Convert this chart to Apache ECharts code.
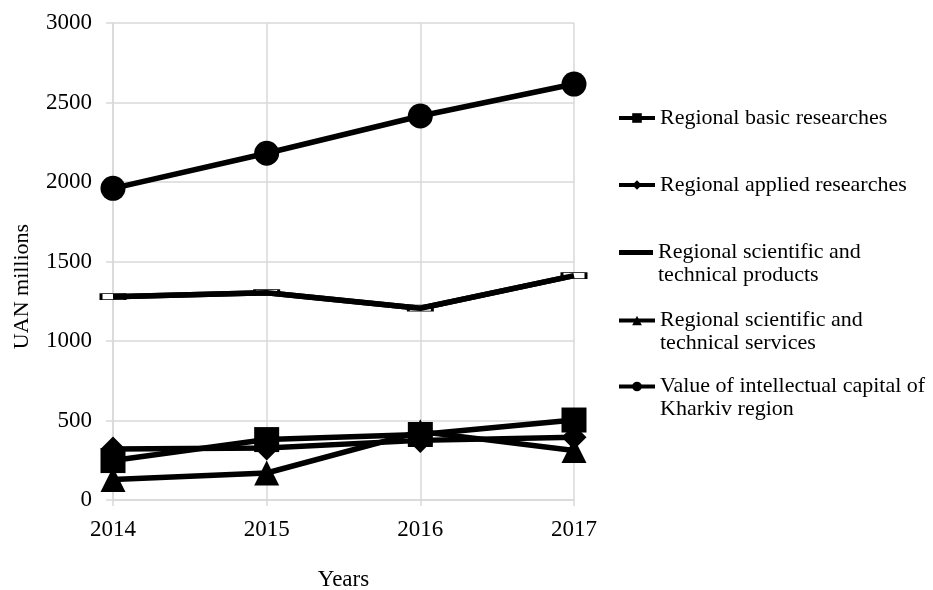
<!DOCTYPE html>
<html>
<head>
<meta charset="utf-8">
<script src="https://cdn.jsdelivr.net/npm/echarts@6/dist/echarts.min.js"></script>
<style>html,body{margin:0;padding:0;background:#fff;}#c{width:933px;height:590px;}</style>
</head>
<body>
<div id="c"></div>
<script>
const years = ['2014', '2015', '2016', '2017'];
const basic = [248, 380, 412, 503];
const applied = [320, 327, 375, 394];
const products = [1279, 1304, 1206, 1411];
const services = [129, 170, 430, 311];
const capital = [1960, 2181, 2415, 2616];
const yTicks = { min: 0, max: 3000, interval: 500 };

const names = [
  'Regional basic researches',
  'Regional applied researches',
  'Regional scientific and technical products',
  'Regional scientific and technical services',
  'Value of intellectual capital of Kharkiv region'
];
const legendText = {
  'Regional basic researches': 'Regional basic researches',
  'Regional applied researches': 'Regional applied researches',
  'Regional scientific and technical products': ' \nRegional scientific and\ntechnical products',
  'Regional scientific and technical services': ' \nRegional scientific and\ntechnical services',
  'Value of intellectual capital of Kharkiv region': ' \nValue of intellectual capital of\nKharkiv region'
};

const FONT = '"Liberation Serif", "Times New Roman", serif';
const GRID_COLOR = '#d9d9d9';

function mkLegend(name, top, extra) {
  return Object.assign({
    data: [name],
    left: 617,
    top: top,
    orient: 'vertical',
    padding: 0,
    itemWidth: 36,
    itemHeight: 12,
    selectedMode: false,
    lineStyle: { width: 4, color: '#000' },
    formatter: n => legendText[n],
    textStyle: { fontFamily: FONT, fontSize: 22, lineHeight: 23, color: '#000' }
  }, extra || {});
}

const chart = echarts.init(document.getElementById('c'));
chart.setOption({
  animation: false,
  backgroundColor: '#fff',
  grid: { left: 113, right: 359, top: 23, bottom: 90, containLabel: false, outerBoundsMode: 'none' },
  legend: [
    mkLegend(names[0], 106.5),
    mkLegend(names[1], 173.5),
    mkLegend(names[2], 218, {
      data: [{ name: names[2], icon: 'rect', itemStyle: { color: '#000', borderWidth: 0 } }],
      itemHeight: 5, left: 619, itemWidth: 34
    }),
    mkLegend(names[3], 286),
    mkLegend(names[4], 352)
  ],
  xAxis: {
    type: 'category',
    data: years,
    boundaryGap: false,
    name: 'Years',
    nameLocation: 'middle',
    nameGap: 68,
    nameTextStyle: { fontFamily: FONT, fontSize: 23, color: '#000' },
    axisLine: { show: true, lineStyle: { color: GRID_COLOR, width: 1.5 } },
    axisTick: { show: true, length: 6, lineStyle: { color: GRID_COLOR, width: 1.5 } },
    axisLabel: { fontFamily: FONT, fontSize: 23, color: '#000', margin: 18 },
    splitLine: { show: true, lineStyle: { color: GRID_COLOR, width: 1.5 } }
  },
  yAxis: {
    type: 'value',
    min: yTicks.min, max: yTicks.max, interval: yTicks.interval,
    name: 'UAN millions',
    nameLocation: 'middle',
    nameGap: 80,
    nameTextStyle: { fontFamily: FONT, fontSize: 22, color: '#000', padding: [0, 50, 0, 0] },
    axisLine: { show: true, lineStyle: { color: GRID_COLOR, width: 1.5 } },
    axisTick: { show: true, length: 7, lineStyle: { color: GRID_COLOR, width: 1.5 } },
    axisLabel: { fontFamily: FONT, fontSize: 23, color: '#000', margin: 21, formatter: v => String(v) },
    splitLine: { show: true, lineStyle: { color: GRID_COLOR, width: 1.5 } }
  },
  series: [
    {
      name: names[0], type: 'line', data: basic,
      symbol: 'rect', symbolSize: 25,
      lineStyle: { color: '#000', width: 5.5 }, itemStyle: { color: '#000' }, z: 3
    },
    {
      name: names[1], type: 'line', data: applied,
      symbol: 'diamond', symbolSize: 25,
      lineStyle: { color: '#000', width: 5.5 }, itemStyle: { color: '#000' }, z: 3
    },
    {
      name: names[2], type: 'line', data: products,
      symbol: 'rect', symbolSize: [24, 6],
      lineStyle: { color: '#000', width: 5.5 },
      itemStyle: { color: '#fff', borderColor: '#000', borderWidth: 1.5 }, z: 3
    },
    {
      name: names[2], type: 'line', data: products,
      showSymbol: false, symbol: 'none',
      lineStyle: { color: '#000', width: 5.5 }, itemStyle: { color: '#000' }, z: 4
    },
    {
      name: names[3], type: 'line', data: services,
      symbol: 'triangle', symbolSize: 25,
      lineStyle: { color: '#000', width: 5.5 }, itemStyle: { color: '#000' }, z: 3
    },
    {
      name: names[4], type: 'line', data: capital,
      symbol: 'circle', symbolSize: 25,
      lineStyle: { color: '#000', width: 5.5 }, itemStyle: { color: '#000' }, z: 3
    }
  ]
});
</script>
</body>
</html>
